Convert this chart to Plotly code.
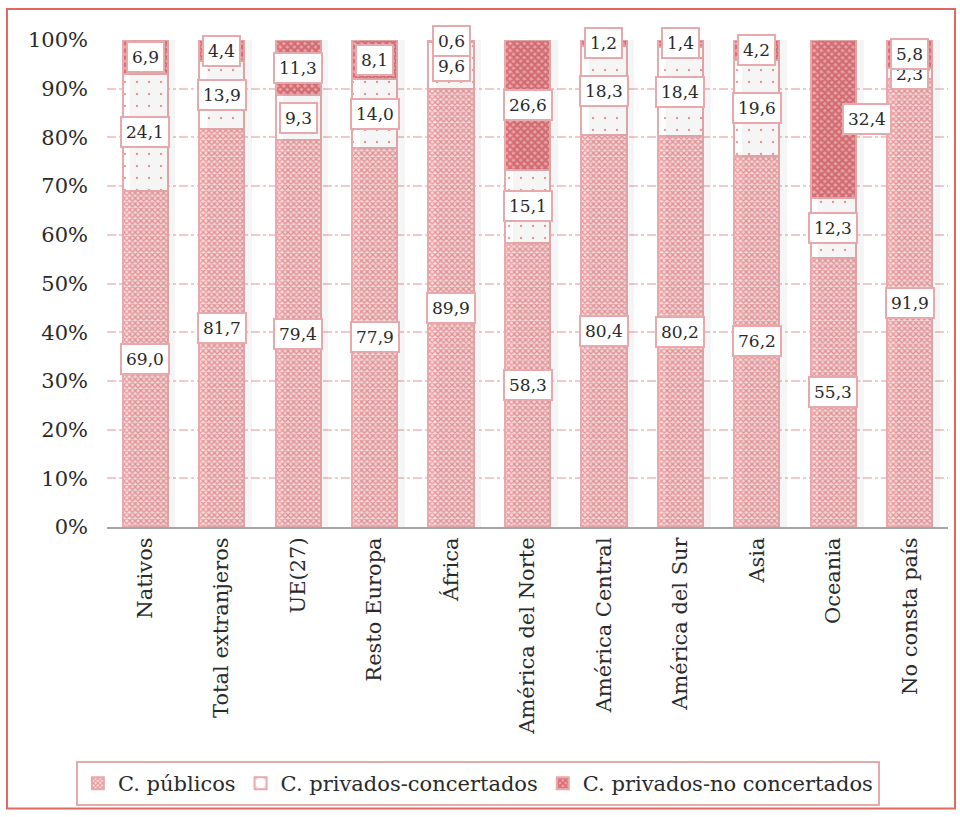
import plotly.graph_objects as go

categories = ["Nativos", "Total extranjeros", "UE(27)", "Resto Europa", "África",
              "América del Norte", "América Central", "América del Sur", "Asia",
              "Oceania", "No consta país"]
publicos = [69.0, 81.7, 79.4, 77.9, 89.9, 58.3, 80.4, 80.2, 76.2, 55.3, 91.9]
concertados = [24.1, 13.9, 9.3, 14.0, 9.6, 15.1, 18.3, 18.4, 19.6, 12.3, 2.3]
no_concertados = [6.9, 4.4, 11.3, 8.1, 0.6, 26.6, 1.2, 1.4, 4.2, 32.4, 5.8]
series_names = ["C. públicos", "C. privados-concertados", "C. privados-no concertados"]
tick_vals = [0, 10, 20, 30, 40, 50, 60, 70, 80, 90, 100]
tick_text = [f"{v}%" for v in tick_vals]

FONT = "DejaVu Serif"
TXT = "#2a2a2a"
W, H = 960, 817
ML, MR, MT, MB = 107, 12, 40, 289
PW, PH = W - ML - MR, H - MT - MB

series = [publicos, concertados, no_concertados]
styles = [
    dict(fg="#dc444c", bg="#fbe0e0", shape="x", size=4, sol=0.55),
    dict(fg="#e03a3a", bg="#ffffff", shape=".", size=12, sol=0.03),
    dict(fg="#c8323c", bg="#eeaaad", shape="x", size=5, sol=0.7),
]

fig = go.Figure()

# soft shadow behind the bars (overlaid axis so it does not stack)
totals = [a + b + c for a, b, c in zip(publicos, concertados, no_concertados)]
for off, alpha in [(0.1, 0.05), (0.075, 0.08), (0.05, 0.12), (0.03, 0.15)]:
    fig.add_trace(go.Bar(x=categories, y=totals, xaxis="x2", yaxis="y2",
                         width=0.59, offset=-0.295 + off,
                         marker=dict(color=f"rgba(60,60,60,{alpha})", line=dict(width=0)),
                         showlegend=False, hoverinfo="skip"))

for name, vals, st in zip(series_names, series, styles):
    fig.add_trace(go.Bar(
        x=categories, y=vals, name=name, width=0.59,
        marker=dict(color=st["bg"],
                    line=dict(color="#e7a9ab", width=2),
                    pattern=dict(shape=st["shape"], fgcolor=st["fg"], bgcolor=st["bg"],
                                 size=st["size"], solidity=st["sol"], fillmode="overlay")),
    ))

annotations = []
base = [0.0] * len(categories)
for vals in series:
    for j, (c, v) in enumerate(zip(categories, vals)):
        yc = base[j] + v / 2
        txt = f"{v:.1f}".replace(".", ",")
        xs = 34 if (c == "Oceania" and vals is no_concertados) else 0
        annotations.append(dict(x=c, y=yc, xref="x", yref="y", text=txt, showarrow=False,
                                xshift=xs,
                                font=dict(family=FONT, size=17, color=TXT),
                                bgcolor="white", bordercolor="#e7a9ab", borderwidth=2,
                                borderpad=4))
        base[j] += v

shapes = [
    dict(type="rect", xref="paper", yref="paper",
         x0=(7 - ML) / PW, x1=(955 - ML) / PW,
         y0=(H - MB - 810) / PH, y1=(H - MB - 9) / PH,
         line=dict(color="#e06a60", width=2), fillcolor="rgba(0,0,0,0)", layer="below"),
]

fig.update_layout(
    width=W, height=H,
    margin=dict(l=ML, r=MR, t=MT, b=MB),
    paper_bgcolor="white", plot_bgcolor="white",
    barmode="stack", bargap=0.41,
    font=dict(family=FONT, size=21, color=TXT),
    xaxis=dict(tickangle=-90, showgrid=False, showline=True, linecolor="#a6a6a6", linewidth=2,
               ticks="", tickfont=dict(family=FONT, size=21, color=TXT)),
    yaxis=dict(range=[0, 100], tickvals=tick_vals, ticktext=tick_text, showgrid=True,
               gridcolor="#f2c9c9", griddash="dashdot", gridwidth=2, zeroline=False,
               tickfont=dict(family=FONT, size=21, color=TXT), ticks="", showline=False,
               ticklabelstandoff=18),
    xaxis2=dict(overlaying="x", matches="x", visible=False),
    yaxis2=dict(overlaying="y", range=[0, 100], visible=False),
    legend=dict(orientation="h", x=0.441, xanchor="center", y=(H - MB - 761) / PH,
                yanchor="top", bordercolor="#e7a9ab", borderwidth=2,
                font=dict(family=FONT, size=21, color=TXT), traceorder="normal",
                itemwidth=30, tracegroupgap=0),
    annotations=annotations, shapes=shapes,
)

fig.write_html("out.html")
